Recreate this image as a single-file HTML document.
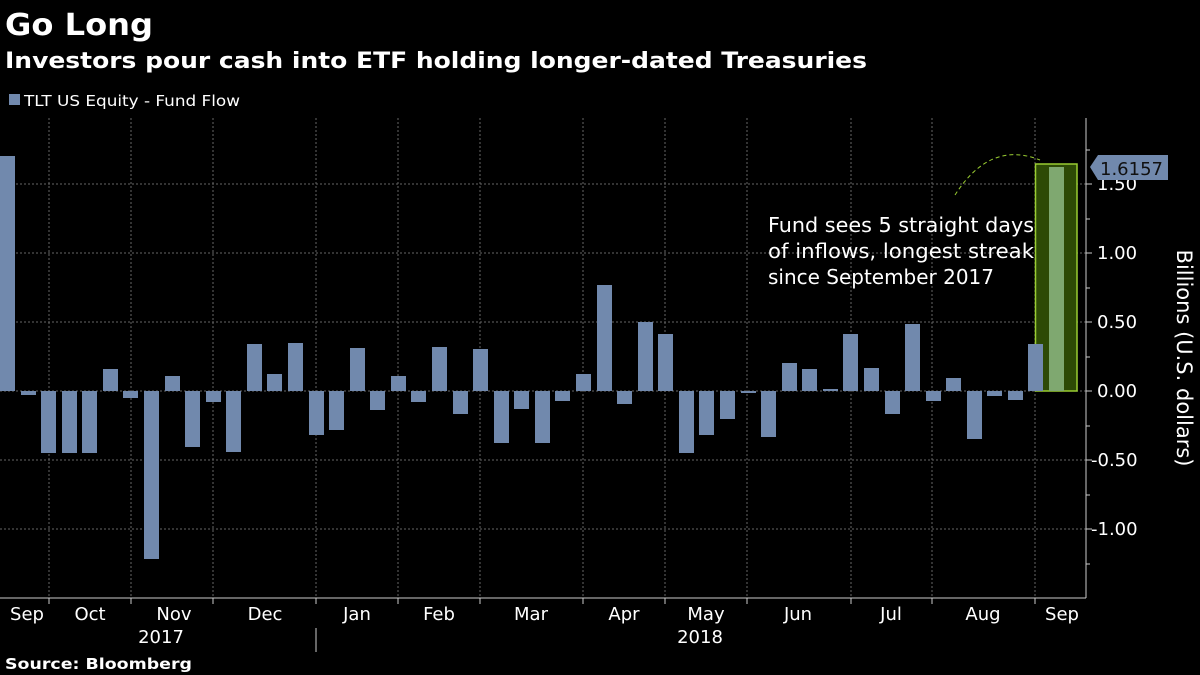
<!DOCTYPE html>
<html><head><meta charset="utf-8"><style>
html,body{margin:0;padding:0;background:#000;}
svg{display:block;}
text{font-family:"DejaVu Sans","Liberation Sans",sans-serif;fill:#fff;}
</style></head><body>
<svg width="1200" height="675" viewBox="0 0 1200 675" xmlns="http://www.w3.org/2000/svg">
<rect width="1200" height="675" fill="#000"/>
<text x="5" y="35" font-size="30" font-weight="bold" textLength="148" lengthAdjust="spacingAndGlyphs">Go Long</text>
<text x="5" y="68" font-size="22" font-weight="bold" textLength="862" lengthAdjust="spacingAndGlyphs">Investors pour cash into ETF holding longer-dated Treasuries</text>
<rect x="9" y="94" width="11" height="11" fill="#7189ad"/>
<text x="24" y="106" font-size="15" textLength="216" lengthAdjust="spacingAndGlyphs">TLT US Equity - Fund Flow</text>
<g stroke="#666" stroke-width="1" stroke-dasharray="2,2">
<line x1="0" x2="1086" y1="184" y2="184"/>
<line x1="0" x2="1086" y1="253" y2="253"/>
<line x1="0" x2="1086" y1="322" y2="322"/>
<line x1="0" x2="1086" y1="391" y2="391"/>
<line x1="0" x2="1086" y1="460" y2="460"/>
<line x1="0" x2="1086" y1="529" y2="529"/>
<line x1="49" x2="49" y1="118" y2="598"/>
<line x1="131" x2="131" y1="118" y2="598"/>
<line x1="213" x2="213" y1="118" y2="598"/>
<line x1="316" x2="316" y1="118" y2="598"/>
<line x1="398" x2="398" y1="118" y2="598"/>
<line x1="480" x2="480" y1="118" y2="598"/>
<line x1="583" x2="583" y1="118" y2="598"/>
<line x1="665" x2="665" y1="118" y2="598"/>
<line x1="747" x2="747" y1="118" y2="598"/>
<line x1="851" x2="851" y1="118" y2="598"/>
<line x1="932" x2="932" y1="118" y2="598"/>
<line x1="1035" x2="1035" y1="118" y2="598"/>
</g>
<rect x="1035.5" y="164" width="41.5" height="227" fill="#2d4a05" stroke="#9acd32" stroke-width="1.5"/>
<g fill="#7189ad" id="bars"></g>
<path d="M955,195 Q990,140 1040,160" fill="none" stroke="#9acd32" stroke-width="1" stroke-dasharray="4,3"/>
<text x="768" y="232" font-size="20" textLength="266" lengthAdjust="spacingAndGlyphs" font-family="Liberation Sans Narrow, Liberation Sans, sans-serif">Fund sees 5 straight days</text>
<text x="768" y="258" font-size="20" textLength="266" lengthAdjust="spacingAndGlyphs">of inflows, longest streak</text>
<text x="768" y="284" font-size="20" textLength="226" lengthAdjust="spacingAndGlyphs">since September 2017</text>
<line x1="1086" x2="1086" y1="118" y2="598" stroke="#ccc"/>
<line x1="0" x2="1086" y1="598" y2="598" stroke="#ccc"/>
<g stroke="#ccc">
<line x1="1086" x2="1092" y1="184" y2="184"/><line x1="1086" x2="1092" y1="253" y2="253"/>
<line x1="1086" x2="1092" y1="322" y2="322"/><line x1="1086" x2="1092" y1="391" y2="391"/>
<line x1="1086" x2="1092" y1="460" y2="460"/><line x1="1086" x2="1092" y1="529" y2="529"/>
<line x1="1086" x2="1090" y1="150" y2="150"/><line x1="1086" x2="1090" y1="219" y2="219"/>
<line x1="1086" x2="1090" y1="288" y2="288"/><line x1="1086" x2="1090" y1="357" y2="357"/>
<line x1="1086" x2="1090" y1="426" y2="426"/><line x1="1086" x2="1090" y1="495" y2="495"/>
<line x1="1086" x2="1090" y1="564" y2="564"/>
<line x1="49" x2="49" y1="598" y2="604"/><line x1="131" x2="131" y1="598" y2="604"/>
<line x1="213" x2="213" y1="598" y2="604"/><line x1="316" x2="316" y1="598" y2="604"/>
<line x1="398" x2="398" y1="598" y2="604"/><line x1="480" x2="480" y1="598" y2="604"/>
<line x1="583" x2="583" y1="598" y2="604"/><line x1="665" x2="665" y1="598" y2="604"/>
<line x1="747" x2="747" y1="598" y2="604"/><line x1="851" x2="851" y1="598" y2="604"/>
<line x1="932" x2="932" y1="598" y2="604"/><line x1="1035" x2="1035" y1="598" y2="604"/>
<line x1="316" x2="316" y1="628" y2="652"/>
</g>
<g font-size="18">
<text x="1097" y="190">1.50</text>
<text x="1097" y="259">1.00</text>
<text x="1097" y="328">0.50</text>
<text x="1097" y="397">0.00</text>
<text x="1091" y="466">-0.50</text>
<text x="1091" y="535">-1.00</text>
</g>
<path d="M1090,167 L1098,155 L1168,155 L1168,180 L1098,180 Z" fill="#7189ad"/>
<text x="1100" y="175" font-size="18" fill="#000" style="fill:#111">1.6157</text>
<text transform="translate(1177,358) rotate(90)" font-size="21" text-anchor="middle">Billions (U.S. dollars)</text>
<g font-size="18" text-anchor="middle">
<text x="27" y="620">Sep</text><text x="90" y="620">Oct</text><text x="174" y="620">Nov</text>
<text x="265" y="620">Dec</text><text x="357" y="620">Jan</text><text x="439" y="620">Feb</text>
<text x="531" y="620">Mar</text><text x="624" y="620">Apr</text><text x="706" y="620">May</text>
<text x="798" y="620">Jun</text><text x="891" y="620">Jul</text><text x="983" y="620">Aug</text>
<text x="1062" y="620">Sep</text>
<text x="161" y="643">2017</text><text x="700" y="643">2018</text>
</g>
<text x="5" y="669" font-size="15" font-weight="bold" textLength="187" lengthAdjust="spacingAndGlyphs">Source: Bloomberg</text>
<g fill="#7189ad">
<rect x="0" y="156" width="15" height="235"/>
<rect x="21" y="391" width="15" height="4"/>
<rect x="41" y="391" width="15" height="62"/>
<rect x="62" y="391" width="15" height="62"/>
<rect x="82" y="391" width="15" height="62"/>
<rect x="103" y="369" width="15" height="22"/>
<rect x="123" y="391" width="15" height="7"/>
<rect x="144" y="391" width="15" height="168"/>
<rect x="165" y="376" width="15" height="15"/>
<rect x="185" y="391" width="15" height="56"/>
<rect x="206" y="391" width="15" height="11"/>
<rect x="226" y="391" width="15" height="61"/>
<rect x="247" y="344" width="15" height="47"/>
<rect x="267" y="374" width="15" height="17"/>
<rect x="288" y="343" width="15" height="48"/>
<rect x="309" y="391" width="15" height="44"/>
<rect x="329" y="391" width="15" height="39"/>
<rect x="350" y="348" width="15" height="43"/>
<rect x="370" y="391" width="15" height="19"/>
<rect x="391" y="376" width="15" height="15"/>
<rect x="411" y="391" width="15" height="11"/>
<rect x="432" y="347" width="15" height="44"/>
<rect x="453" y="391" width="15" height="23"/>
<rect x="473" y="349" width="15" height="42"/>
<rect x="494" y="391" width="15" height="52"/>
<rect x="514" y="391" width="15" height="18"/>
<rect x="535" y="391" width="15" height="52"/>
<rect x="555" y="391" width="15" height="10"/>
<rect x="576" y="374" width="15" height="17"/>
<rect x="597" y="285" width="15" height="106"/>
<rect x="617" y="391" width="15" height="13"/>
<rect x="638" y="322" width="15" height="69"/>
<rect x="658" y="334" width="15" height="57"/>
<rect x="679" y="391" width="15" height="62"/>
<rect x="699" y="391" width="15" height="44"/>
<rect x="720" y="391" width="15" height="28"/>
<rect x="741" y="391" width="15" height="2"/>
<rect x="761" y="391" width="15" height="46"/>
<rect x="782" y="363" width="15" height="28"/>
<rect x="802" y="369" width="15" height="22"/>
<rect x="823" y="389" width="15" height="2"/>
<rect x="843" y="334" width="15" height="57"/>
<rect x="864" y="368" width="15" height="23"/>
<rect x="885" y="391" width="15" height="23"/>
<rect x="905" y="324" width="15" height="67"/>
<rect x="926" y="391" width="15" height="10"/>
<rect x="946" y="378" width="15" height="13"/>
<rect x="967" y="391" width="15" height="48"/>
<rect x="987" y="391" width="15" height="5"/>
<rect x="1008" y="391" width="15" height="9"/>
<rect x="1028" y="344" width="15" height="47"/>
</g>
<rect x="1049" y="167" width="15" height="224" fill="#7fa870"/>
</svg>
</body></html>
